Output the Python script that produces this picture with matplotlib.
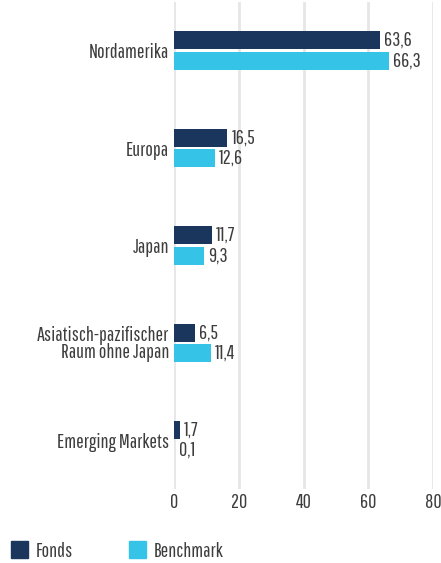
import matplotlib
matplotlib.use("Agg")
import matplotlib.pyplot as plt
from matplotlib.patches import Patch

categories = ["Nordamerika", "Europa", "Japan",
              "Asiatisch-pazifischer\nRaum ohne Japan", "Emerging Markets"]
fonds = [63.6, 16.5, 11.7, 6.5, 1.7]
benchmark = [66.3, 12.6, 9.3, 11.4, 0.1]
x_ticks = [0, 20, 40, 60, 80]

navy = "#1b365d"
cyan = "#35c4e8"
text_col = "#3d3d3d"

plt.rcParams["font.family"] = ["Pathway Gothic One", "Barlow Condensed", "DejaVu Sans"]

fs = 14.5

fig = plt.figure(figsize=(4.41, 5.63), dpi=100)
ax = fig.add_axes([174 / 441, 1 - 489 / 563, (433 - 174) / 441, (489 - 2) / 563])

pos = list(range(len(categories)))
h = 0.185
off = 0.105
ax.barh([p - off for p in pos], fonds, height=h, color=navy, zorder=3)
ax.barh([p + off for p in pos], benchmark, height=h, color=cyan, zorder=3)

fmt = lambda v: f"{v:.1f}".replace(".", ",")
for p, f, b in zip(pos, fonds, benchmark):
    ax.text(f + 1.3, p - off, fmt(f), va="center", ha="left", fontsize=fs, color=text_col)
    ax.text(b + 1.3, p + off, fmt(b), va="center", ha="left", fontsize=fs, color=text_col)

ax.set_ylim(4.5, -0.5)
ax.set_xlim(0, 80)
ax.set_yticks(pos)
ax.set_yticklabels(categories, fontsize=fs, color=text_col, linespacing=0.85)
ax.set_xticks(x_ticks)
ax.set_xticklabels([str(t) for t in x_ticks], fontsize=fs, color=text_col)
ax.tick_params(length=0, pad=3.5)
ax.tick_params(axis="x", pad=3)
for s in ax.spines.values():
    s.set_visible(False)
ax.grid(axis="x", color="#e6e6e6", linewidth=2, zorder=0)
ax.set_axisbelow(True)

handles = [Patch(color=navy, label="Fonds"), Patch(color=cyan, label="Benchmark")]
fig.legend(handles=handles, loc="center left", bbox_to_anchor=(11 / 441, 1 - 551 / 563),
           ncol=2, frameon=False, fontsize=fs, labelcolor=text_col,
           handlelength=0.85, handleheight=0.85, columnspacing=2.75,
           handletextpad=0.4, borderpad=0, borderaxespad=0)

fig.savefig("out.png", dpi=100)
